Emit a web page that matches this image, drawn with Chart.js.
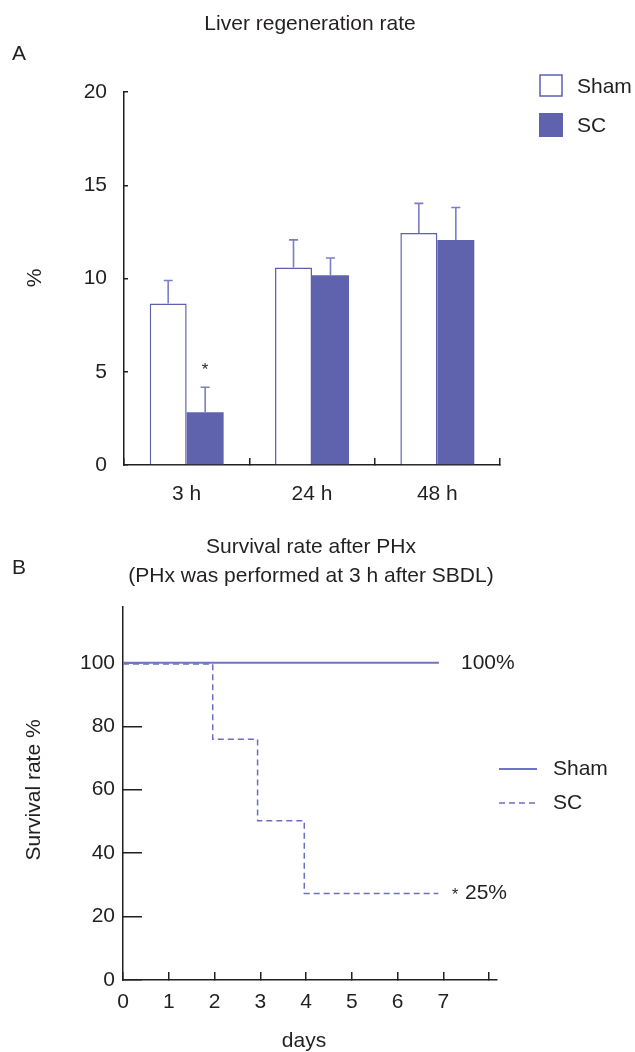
<!DOCTYPE html>
<html><head><meta charset="utf-8">
<script src="https://cdn.jsdelivr.net/npm/chart.js@4.4.1/dist/chart.umd.min.js"></script>
<style>
html,body{margin:0;padding:0;background:#fff;}
#wrap{position:relative;width:635px;height:1052px;overflow:hidden;}
#c1{position:absolute;left:0;top:0;}
#c2{position:absolute;left:0;top:520px;}
</style></head><body>
<div id="wrap"><canvas id="c1" width="635" height="520"></canvas><canvas id="c2" width="635" height="532"></canvas></div>
<script>
// ---- Panel A data ----
const regenCategories = ['3 h', '24 h', '48 h'];
const shamRegen = [8.66, 10.59, 12.44];
const shamRegenErr = [1.23, 1.48, 1.59];
const scRegen = [2.83, 10.18, 12.07];
const scRegenErr = [1.34, 0.92, 1.74];
const regenTicks = [0, 5, 10, 15, 20];
const scSignificant = [true, false, false];

// ---- Panel B data ----
const shamDays = [0, 6.9];
const shamSurvival = [100, 100];
const scDays = [0, 1.96, 2.94, 3.96, 6.89];
const scSurvival = [99.6, 75.9, 50.2, 27.3, 27.3];
const dayTicks = [0, 1, 2, 3, 4, 5, 6, 7, 8];
const survivalTicks = [0, 20, 40, 60, 80, 100];
const endLabels = ['100%', '25%'];

const FONT = '"Liberation Sans", Arial, Helvetica, sans-serif';
const INK = '#231f20';
const BAR = '#5f63ad';
const SHAM_EDGE = '#5c60b0';
const ERR = '#7a7ec4';
const LINE = '#6f74c2';

Chart.defaults.font.family = FONT;
Chart.defaults.font.size = 21;
Chart.defaults.color = INK;
Chart.defaults.animation = false;

function txt(ctx, s, x, y, size, align, base) {
  ctx.save();
  ctx.font = size + 'px ' + FONT;
  ctx.fillStyle = INK;
  ctx.textAlign = align || 'left';
  ctx.textBaseline = base || 'middle';
  ctx.fillText(s, x, y);
  ctx.restore();
}

const panelA = {
  id: 'panelA',
  afterDatasetsDraw(chart) {
    const ctx = chart.ctx, y = chart.scales.y;
    // error bars
    chart.data.datasets.forEach((ds, di) => {
      const meta = chart.getDatasetMeta(di);
      meta.data.forEach((bar, i) => {
        const yt = y.getPixelForValue(ds.data[i] + ds.err[i]);
        ctx.save();
        ctx.strokeStyle = ERR; ctx.lineWidth = 1.6;
        ctx.beginPath();
        ctx.moveTo(bar.x, bar.y); ctx.lineTo(bar.x, yt);
        ctx.moveTo(bar.x - 4.5, yt); ctx.lineTo(bar.x + 4.5, yt);
        ctx.stroke();
        ctx.restore();
        if (di === 1 && scSignificant[i]) txt(ctx, '*', bar.x, yt - 17, 17, 'center', 'middle');
      });
    });
  },
  afterDraw(chart) {
    const ctx = chart.ctx;
    txt(ctx, 'Liver regeneration rate', 310, 24, 21, 'center');
    txt(ctx, 'A', 12, 54, 21, 'left');
    ctx.save(); ctx.translate(35, 278); ctx.rotate(-Math.PI / 2);
    txt(ctx, '%', 0, 0, 21, 'center'); ctx.restore();
    // legend
    const ds = chart.data.datasets;
    ctx.save();
    ctx.fillStyle = '#fff'; ctx.fillRect(540, 75, 22, 21);
    ctx.strokeStyle = SHAM_EDGE; ctx.lineWidth = 1.5; ctx.strokeRect(540, 75, 22, 21);
    ctx.fillStyle = BAR; ctx.fillRect(539, 113, 24, 24);
    ctx.restore();
    txt(ctx, ds[0].label, 577, 87, 21, 'left');
    txt(ctx, ds[1].label, 577, 126, 21, 'left');
  }
};

new Chart(document.getElementById('c1'), {
  type: 'bar',
  data: {
    labels: regenCategories,
    datasets: [
      { label: 'Sham', data: shamRegen, err: shamRegenErr, backgroundColor: '#ffffff', borderColor: SHAM_EDGE, borderWidth: 1.5, borderSkipped: 'start' },
      { label: 'SC', data: scRegen, err: scRegenErr, backgroundColor: BAR, borderWidth: 0 }
    ]
  },
  options: {
    responsive: false, animation: false,
    categoryPercentage: 0.59, barPercentage: 1,
    layout: { padding: { left: 0, right: 135, top: 92, bottom: 10 } },
    plugins: { legend: { display: false }, tooltip: { enabled: false } },
    scales: {
      x: {
        grid: { drawOnChartArea: false, tickLength: -7, color: INK, lineWidth: 1.5 },
        border: { color: INK, width: 1.5 },
        ticks: { padding: 24, font: { size: 21 }, color: INK },
        afterFit(s) { s.height = 45; }
      },
      y: {
        min: 0, max: 20,
        grid: { drawOnChartArea: false, tickLength: -4, color: INK, lineWidth: 1.5 },
        border: { color: INK, width: 1.5 },
        ticks: { padding: 21, font: { size: 21 }, color: INK },
        afterBuildTicks(s) { s.ticks = regenTicks.map(v => ({ value: v })); },
        afterFit(s) { s.width = 124; }
      }
    }
  },
  plugins: [panelA]
});

const panelB = {
  id: 'panelB',
  afterDraw(chart) {
    const ctx = chart.ctx, y = chart.scales.y;
    txt(ctx, 'Survival rate after PHx', 311, 27, 21, 'center');
    txt(ctx, '(PHx was performed at 3 h after SBDL)', 311, 56, 21, 'center');
    txt(ctx, 'B', 12, 48, 21, 'left');
    ctx.save(); ctx.translate(34, 270); ctx.rotate(-Math.PI / 2);
    txt(ctx, 'Survival rate %', 0, 0, 21, 'center'); ctx.restore();
    txt(ctx, 'days', 304, 521, 21, 'center');
    // end labels
    txt(ctx, endLabels[0], 461, y.getPixelForValue(shamSurvival[shamSurvival.length - 1]), 21, 'left');
    const y25 = y.getPixelForValue(scSurvival[scSurvival.length - 1]);
    txt(ctx, '*', 455, y25 + 2, 16, 'center');
    txt(ctx, endLabels[1], 465, y25, 21, 'left');
    // legend
    const ds = chart.data.datasets;
    ctx.save();
    ctx.strokeStyle = ds[0].borderColor; ctx.lineWidth = ds[0].borderWidth;
    ctx.beginPath(); ctx.moveTo(499, 249); ctx.lineTo(537, 249); ctx.stroke();
    ctx.strokeStyle = ds[1].borderColor; ctx.lineWidth = ds[1].borderWidth;
    ctx.setLineDash(ds[1].borderDash);
    ctx.beginPath(); ctx.moveTo(499, 283); ctx.lineTo(537, 283); ctx.stroke();
    ctx.restore();
    txt(ctx, ds[0].label, 553, 249, 21, 'left');
    txt(ctx, ds[1].label, 553, 283, 21, 'left');
  }
};

new Chart(document.getElementById('c2'), {
  type: 'line',
  data: {
    datasets: [
      { label: 'Sham', data: shamDays.map((d, i) => ({ x: d, y: shamSurvival[i] })), borderColor: LINE, borderWidth: 2, pointRadius: 0, stepped: 'before', fill: false },
      { label: 'SC', data: scDays.map((d, i) => ({ x: d, y: scSurvival[i] })), borderColor: '#6a6fc0', borderWidth: 1.5, borderDash: [6, 4], pointRadius: 0, stepped: 'before', fill: false }
    ]
  },
  options: {
    responsive: false, animation: false,
    layout: { padding: { left: 0, right: 138, top: 87, bottom: 12 } },
    plugins: { legend: { display: false }, tooltip: { enabled: false } },
    scales: {
      x: {
        type: 'linear', min: 0, max: 8.17,
        grid: { drawOnChartArea: false, tickLength: -8, color: INK, lineWidth: 1.5 },
        border: { color: INK, width: 1.5 },
        ticks: { padding: 18, font: { size: 21 }, color: INK, callback: v => (v === 8 ? '' : String(v)) },
        afterBuildTicks(s) { s.ticks = dayTicks.map(v => ({ value: v })); },
        afterFit(s) { s.height = 60; }
      },
      y: {
        min: 0, max: 117.6,
        grid: { drawOnChartArea: false, tickLength: -19, color: INK, lineWidth: 1.5 },
        border: { color: INK, width: 1.5 },
        ticks: { padding: 27, font: { size: 21 }, color: INK },
        afterBuildTicks(s) { s.ticks = survivalTicks.map(v => ({ value: v })); },
        afterFit(s) { s.width = 123; }
      }
    }
  },
  plugins: [panelB]
});
</script>
</body></html>
